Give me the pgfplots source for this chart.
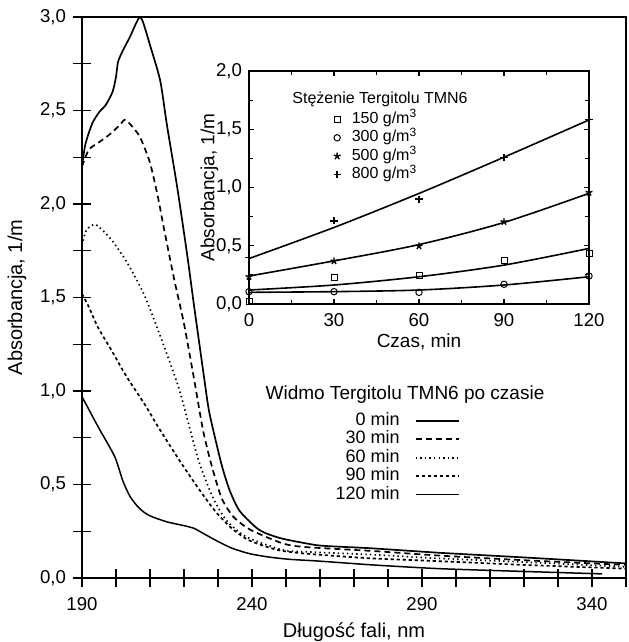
\documentclass[border=0pt]{standalone}
\usepackage{fontspec}
\setmainfont{Liberation Sans}
\usepackage{pgfplots}
\pgfplotsset{compat=1.18}
\begin{document}
\begin{tikzpicture}
% main spectra
\begin{axis}[
  scale only axis, width=272pt, height=280.5pt,
  xmin=190, xmax=350, ymin=0, ymax=3,
  xtick={190,240,290,340}, minor xtick={200,210,...,350},
  ytick={0,0.5,1,1.5,2,2.5,3}, minor ytick={0.25,0.75,1.25,1.75,2.25,2.75},
  xtick pos=bottom, ytick pos=left,
  tick align=center, major tick length=9pt, minor tick length=9pt,
  tick style={black, line width=0.7pt},
  axis line style={line width=1.3pt},
  /pgf/number format/assume math mode=true,
  yticklabel style={/pgf/number format/.cd, fixed, fixed zerofill, precision=1, use comma},
  xticklabel style={yshift=-1.5pt},
  tick label style={font=\fontsize{9.3}{10}\selectfont},
  label style={font=\fontsize{10}{12}\selectfont},
  xlabel={Długość fali, nm}, ylabel={Absorbancja, 1/m},
  xlabel style={yshift=0.5pt},
  legend plot pos=right, legend cell align=right,
  legend image code/.code={\draw[#1] (0pt,0pt) -- (21.5pt,0pt);},
  legend style={at={(axis cs:264.2,0.893)}, anchor=north west, draw=none, fill=none,
    inner sep=0pt, font=\fontsize{9}{9}\selectfont,
    nodes={inner sep=0.5pt, text height=6.5pt, text depth=1.75pt},
    /tikz/every odd column/.append style={column sep=7pt}},
]
\addplot[black, line width=0.85pt, smooth, tension=0.4] coordinates {
 (190,2.20) (191,2.32) (193,2.43) (195,2.49) (197,2.53) (199,2.60) (200,2.68)
 (200.6,2.76) (202,2.82) (204,2.89) (206,2.97) (207,3.00) (208,2.97) (210,2.85)
 (213,2.66) (215,2.42) (218,2.09) (221,1.72) (223,1.45) (226,1.06) (227.5,0.88)
 (231,0.61) (233.4,0.47) (236.3,0.36) (241.2,0.27) (244,0.24) (249,0.21)
 (258.8,0.176) (265,0.168) (275,0.159) (295,0.135) (320,0.11) (350,0.078)};
\addlegendentry{0 min}
\addplot[black, line width=0.85pt, dash pattern=on 3pt off 2pt, smooth, tension=0.4] coordinates {
 (190,2.20) (192,2.29) (195,2.33) (198,2.37) (201,2.42) (202.5,2.45) (204,2.43)
 (207,2.36) (210,2.22) (212.3,2.04) (214.2,1.86) (217.2,1.59) (220,1.36)
 (223,1.06) (225.6,0.79) (228,0.61) (231,0.43) (234.4,0.33) (239.3,0.26)
 (249,0.185) (256,0.165) (275,0.145) (295,0.12) (320,0.095) (350,0.07)};
\addlegendentry{30 min}
\addplot[black, line width=0.85pt, dash pattern=on 0.7pt off 1.6pt, smooth, tension=0.4] coordinates {
 (190,1.78) (191.3,1.86) (194,1.89) (198.6,1.81) (203.5,1.68) (208.4,1.51)
 (213.3,1.28) (218.4,1.02) (221.7,0.80) (224.6,0.61) (228.5,0.43) (232.4,0.31)
 (238.3,0.22) (249,0.15) (256,0.14) (275,0.125) (295,0.105) (320,0.085) (350,0.06)};
\addlegendentry{60 min}
\addplot[black, line width=0.85pt, dash pattern=on 1.6pt off 1.4pt, smooth, tension=0.4] coordinates {
 (190,1.52) (192,1.45) (194.7,1.34) (198.6,1.22) (203,1.08) (208.4,0.93)
 (212,0.82) (215.8,0.71) (219.7,0.60) (224.6,0.47) (229.5,0.35) (234.4,0.26)
 (239.3,0.20) (247.5,0.15) (256,0.13) (275,0.105) (295,0.09) (320,0.07) (350,0.05)};
\addlegendentry{90 min}
\addplot[black, line width=0.75pt, smooth, tension=0.4] coordinates {
 (190,0.97) (194.7,0.81) (199.6,0.65) (202,0.52) (204,0.44) (206,0.39)
 (208,0.355) (210.3,0.33) (215,0.30) (220,0.28) (223,0.265) (226,0.235)
 (229.5,0.20) (234,0.16) (239.3,0.13) (245,0.112) (251,0.10) (260,0.09)
 (275.4,0.07) (295,0.05) (320,0.035) (343,0.022)};
\addlegendentry{120 min}
\node[font=\fontsize{9.5}{10}\selectfont] at (axis cs:285,0.979) {Widmo Tergitolu TMN6 po czasie};
\end{axis}

% inset: absorbance vs time
\begin{axis}[
  at={(83.5pt,137pt)}, anchor=south west,
  scale only axis, width=170pt, height=116.5pt,
  xmin=0, xmax=120, ymin=0, ymax=2,
  xtick={0,30,60,90,120}, minor xtick={15,45,75,105},
  ytick={0,0.5,1,1.5,2}, minor ytick={0.25,0.75,1.25,1.75},
  tick align=inside, major tick length=2.5pt, minor tick length=2pt,
  tick style={black, line width=0.6pt},
  axis line style={line width=1.2pt},
  /pgf/number format/assume math mode=true,
  yticklabel style={/pgf/number format/.cd, fixed, fixed zerofill, precision=1, use comma},
  xticklabel style={yshift=-1pt},
  tick label style={font=\fontsize{9.3}{10}\selectfont},
  label style={font=\fontsize{9.5}{11}\selectfont},
  xlabel={Czas, min}, ylabel={Absorbancja, 1/m},
  xlabel style={yshift=3pt}, ylabel style={yshift=-8pt},
  legend image code/.code={\draw[mark repeat=2,mark phase=2,#1] plot coordinates {(0pt,0pt)(3pt,0pt)(6pt,0pt)};},
  legend style={at={(axis cs:29.7,1.667)}, anchor=north west, draw=none, fill=none,
    inner sep=0pt, font=\fontsize{8}{8}\selectfont,
    nodes={inner sep=0.5pt, text height=6.2pt, text depth=2pt},
    /tikz/every odd column/.append style={column sep=5pt}},
]
\addplot[only marks, mark=square, mark size=1.5pt, mark options={line width=0.5pt}] coordinates {
 (0,0.02) (30,0.226) (60,0.243) (90,0.377) (120,0.434)};
\addlegendentry{150 g/m\textsuperscript{3}}
\addplot[only marks, mark=o, mark size=1.6pt, mark options={line width=0.5pt}] coordinates {
 (0,0.106) (30,0.106) (60,0.10) (90,0.169) (120,0.24)};
\addlegendentry{300 g/m\textsuperscript{3}}
\addplot[only marks, mark=star, mark size=1.8pt, mark options={line width=0.7pt}] coordinates {
 (0,0.234) (30,0.369) (60,0.497) (90,0.706) (120,0.957)};
\addlegendentry{500 g/m\textsuperscript{3}}
\addplot[only marks, mark=+, mark size=1.8pt, mark options={line width=0.7pt}] coordinates {
 (0,0.40) (30,0.714) (60,0.90) (90,1.257) (120,1.583)};
\addlegendentry{800 g/m\textsuperscript{3}}
% fitted trend lines
\addplot[black, line width=0.8pt, smooth, forget plot] coordinates {
 (0,0.12) (30,0.163) (60,0.234) (90,0.334) (120,0.477)};
\addplot[black, line width=0.8pt, smooth, forget plot] coordinates {
 (0,0.10) (30,0.106) (60,0.12) (90,0.163) (120,0.234)};
\addplot[black, line width=0.8pt, smooth, forget plot] coordinates {
 (0,0.24) (30,0.37) (60,0.51) (90,0.70) (120,0.95)};
\addplot[black, line width=0.8pt, smooth, forget plot] coordinates {
 (0,0.39) (30,0.657) (60,0.949) (90,1.26) (120,1.58)};
\node[anchor=west, font=\fontsize{8}{9}\selectfont, inner sep=0pt] at (axis cs:15.2,1.76) {Stężenie Tergitolu TMN6};
\end{axis}
\pgfresetboundingbox
\path (-41pt,-32pt) rectangle (273pt,289pt);
\end{tikzpicture}
\end{document}
